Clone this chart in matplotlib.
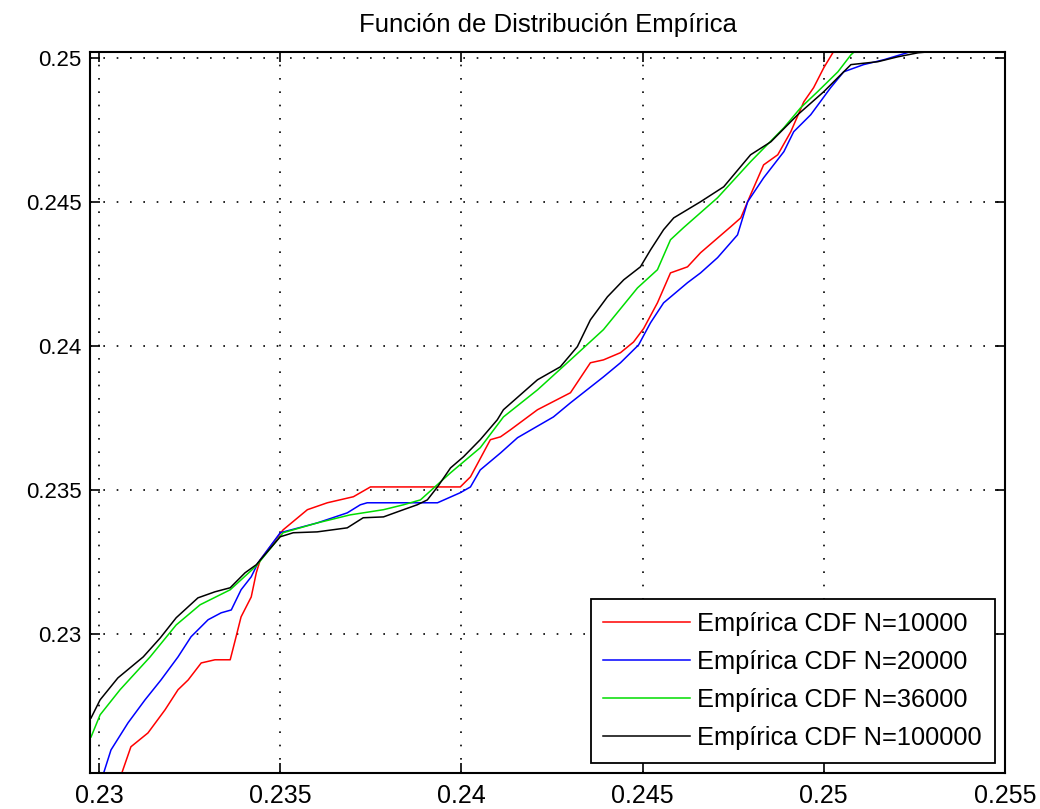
import matplotlib
matplotlib.use('Agg')
import matplotlib.pyplot as plt
from matplotlib.ticker import FormatStrFormatter

plt.rcParams['font.family'] = ['Liberation Sans', 'DejaVu Sans']

x_10000 = [0.23061, 0.23088, 0.23135, 0.23182, 0.23218, 0.23246, 0.23282, 0.23320, 0.23362, 0.23376,
           0.23392, 0.23420, 0.23434, 0.23445, 0.23508, 0.23575, 0.23630, 0.23702, 0.23749, 0.23997,
           0.24025, 0.24080, 0.24108, 0.24135, 0.24210, 0.24301, 0.24356, 0.24392, 0.24439, 0.24475,
           0.24503, 0.24541, 0.24577, 0.24624, 0.24660, 0.24743, 0.24771, 0.24798, 0.24834, 0.24873,
           0.24909, 0.24945, 0.24972, 0.25000, 0.25025, 0.25033]
y_10000 = [0.22510, 0.22608, 0.22656, 0.22736, 0.22806, 0.22840, 0.22899, 0.22910, 0.22910, 0.22979,
           0.23059, 0.23128, 0.23212, 0.23257, 0.23361, 0.23431, 0.23455, 0.23476, 0.23510, 0.23510,
           0.23545, 0.23674, 0.23684, 0.23708, 0.23778, 0.23837, 0.23941, 0.23951, 0.23976, 0.24013,
           0.24060, 0.24149, 0.24253, 0.24274, 0.24323, 0.24413, 0.24444, 0.24524, 0.24628, 0.24663,
           0.24743, 0.24847, 0.24896, 0.24965, 0.25017, 0.25035]

x_20000 = [0.23011, 0.23033, 0.23080, 0.23127, 0.23171, 0.23218, 0.23254, 0.23301, 0.23337, 0.23365,
           0.23392, 0.23420, 0.23439, 0.23500, 0.23602, 0.23685, 0.23721, 0.23740, 0.23851, 0.23934,
           0.23997, 0.24025, 0.24052, 0.24108, 0.24155, 0.24254, 0.24301, 0.24392, 0.24439, 0.24489,
           0.24522, 0.24558, 0.24624, 0.24660, 0.24707, 0.24762, 0.24790, 0.24834, 0.24890, 0.24917,
           0.24964, 0.25019, 0.25055, 0.25110, 0.25166, 0.25240]
y_20000 = [0.22510, 0.22597, 0.22691, 0.22771, 0.22840, 0.22920, 0.22990, 0.23049, 0.23073, 0.23083,
           0.23153, 0.23198, 0.23247, 0.23351, 0.23385, 0.23420, 0.23448, 0.23455, 0.23455, 0.23455,
           0.23490, 0.23510, 0.23569, 0.23628, 0.23681, 0.23753, 0.23802, 0.23892, 0.23941, 0.24003,
           0.24080, 0.24149, 0.24219, 0.24253, 0.24306, 0.24385, 0.24500, 0.24583, 0.24674, 0.24743,
           0.24802, 0.24896, 0.24951, 0.24976, 0.24993, 0.25021]

x_36000 = [0.22978, 0.23003, 0.23058, 0.23141, 0.23213, 0.23279, 0.23362, 0.23434, 0.23508, 0.23602,
           0.23693, 0.23785, 0.23840, 0.23887, 0.23970, 0.24052, 0.24116, 0.24210, 0.24301, 0.24392,
           0.24486, 0.24541, 0.24577, 0.24613, 0.24707, 0.24798, 0.24890, 0.24936, 0.24983, 0.25039,
           0.25075, 0.25091]
y_36000 = [0.22642, 0.22719, 0.22806, 0.22920, 0.23031, 0.23101, 0.23153, 0.23236, 0.23351, 0.23385,
           0.23413, 0.23431, 0.23448, 0.23465, 0.23559, 0.23646, 0.23753, 0.23847, 0.23951, 0.24056,
           0.24201, 0.24264, 0.24368, 0.24410, 0.24514, 0.24639, 0.24757, 0.24826, 0.24882, 0.24951,
           0.25010, 0.25028]

x_100000 = [0.22978, 0.23003, 0.23052, 0.23122, 0.23169, 0.23213, 0.23273, 0.23320, 0.23362, 0.23403,
            0.23434, 0.23500, 0.23536, 0.23602, 0.23685, 0.23729, 0.23785, 0.23840, 0.23878, 0.23906,
            0.23934, 0.23970, 0.24006, 0.24052, 0.24099, 0.24116, 0.24210, 0.24273, 0.24320, 0.24356,
            0.24403, 0.24448, 0.24494, 0.24522, 0.24558, 0.24586, 0.24660, 0.24724, 0.24798, 0.24854,
            0.24928, 0.25000, 0.25039, 0.25075, 0.25149, 0.25204, 0.25260, 0.25296]
y_100000 = [0.22708, 0.22771, 0.22847, 0.22920, 0.22986, 0.23056, 0.23125, 0.23146, 0.23160, 0.23212,
            0.23240, 0.23337, 0.23351, 0.23354, 0.23368, 0.23403, 0.23406, 0.23431, 0.23448, 0.23465,
            0.23510, 0.23576, 0.23615, 0.23674, 0.23743, 0.23778, 0.23882, 0.23927, 0.23997, 0.24090,
            0.24170, 0.24229, 0.24274, 0.24333, 0.24403, 0.24444, 0.24500, 0.24552, 0.24663, 0.24708,
            0.24802, 0.24882, 0.24931, 0.24976, 0.24986, 0.25003, 0.25017, 0.25021]

labels = ['Empírica CDF N=10000', 'Empírica CDF N=20000',
          'Empírica CDF N=36000', 'Empírica CDF N=100000']
colores = ['#ff0000', '#0000ff', '#00dd00', '#000000']
xticks = [0.23, 0.235, 0.24, 0.245, 0.25, 0.255]
yticks = [0.23, 0.235, 0.24, 0.245, 0.25]

fig = plt.figure(figsize=(10.4, 8.09), dpi=100)
ax = fig.add_axes([0.0865, 0.0445, 0.8798, 0.8913])

series = [(x_10000, y_10000), (x_20000, y_20000), (x_36000, y_36000), (x_100000, y_100000)]
for (xs, ys), c, lab in zip(series, colores, labels):
    ax.plot(xs, ys, color=c, lw=1.1, label=lab)

ax.set_xlim(0.22975, 0.2550)
ax.set_ylim(0.22517, 0.2502)
ax.set_xticks(xticks)
ax.set_yticks(yticks)
ax.xaxis.set_major_formatter(FormatStrFormatter('%g'))
ax.yaxis.set_major_formatter(FormatStrFormatter('%g'))
ax.tick_params(direction='in', length=7, width=1.2, top=True, right=True, colors='black')
ax.tick_params(axis='x', labelsize=18, pad=8)
ax.tick_params(axis='y', labelsize=16, pad=6)
for s in ax.spines.values():
    s.set_linewidth(1.5)
ax.grid(True, color='black', linestyle=(0, (1, 7)), linewidth=1.2)

ax.set_title('Función de Distribución Empírica', fontsize=18.5, pad=14)

leg = ax.legend(loc='lower right', fontsize=18.3, fancybox=False, edgecolor='black',
                framealpha=1, borderaxespad=0.4, handlelength=3.4, labelspacing=0.55,
                handletextpad=0.3, borderpad=0.5)
leg.get_frame().set_linewidth(1.3)

#plt.show() - debug
plt.savefig('out.png', dpi=100)
